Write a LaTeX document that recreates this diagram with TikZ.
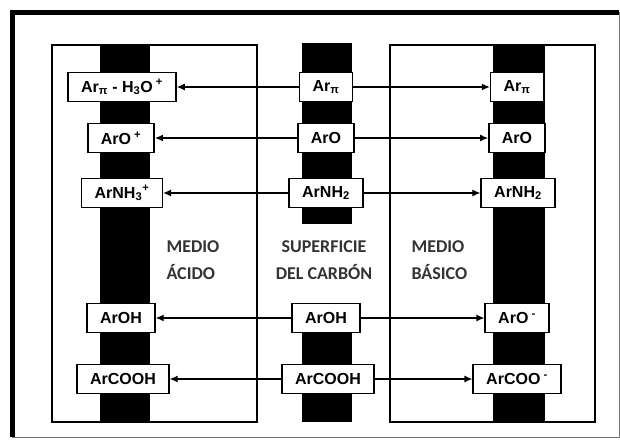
\documentclass[tikz,border=0pt]{standalone}
\usepackage{fontspec}
\setmainfont{Liberation Sans}
\newfontfamily\mediumfont{Carlito}
\usetikzlibrary{arrows.meta}

\begin{document}
\begin{tikzpicture}[x=1pt,y=-1pt,
    species/.style={draw,line width=1.6pt,fill=white,
      font=\bfseries\fontsize{16}{16}\selectfont,
      inner xsep=13pt,minimum height=29pt},
    zone/.style={draw,line width=2.4pt},
    link/.style={line width=1.2pt,-{Latex[length=8pt,width=7pt]}},
    medium/.style={font=\mediumfont\bfseries\fontsize{18}{27}\selectfont,
      text=black!80}]
  \useasboundingbox (0,0) rectangle (620,439);
  % outer frame
  \draw[line width=5pt] (12,437) -- (12,12) -- (619,12);
  \draw[black!55,line width=0.8pt] (619,12) -- (619,437) -- (12,437);
  % carbon bars
  \fill (100,45) rectangle (150,422);
  \fill (302,43) rectangle (352,224);
  \fill (302,306) rectangle (352,422);
  \fill (493,45) rectangle (545,422);
  % acid and basic media
  \draw[zone] (52,45) rectangle (257,422);
  \draw[zone] (390,45) rectangle (595,422);
  \node[medium,align=left,anchor=west] (acid) at (163,260) {MEDIO\\ÁCIDO};
  \node[medium,align=center] (surface) at (324,260) {SUPERFICIE\\DEL CARBÓN};
  \node[medium,align=left,anchor=west] (basic) at (408,260) {MEDIO\\BÁSICO};
  % surface groups
  \node[species] (s1) at (326,87) {Ar\textsubscript{π}};
  \node[species] (s2) at (326,138) {ArO};
  \node[species] (s3) at (326,193) {ArNH\textsubscript{2}};
  \node[species] (s4) at (326,318) {ArOH};
  \node[species] (s5) at (328,379) {ArCOOH};
  % acid side
  \node[species] (a1) at (122,87) {Ar\textsubscript{π} - H\textsubscript{3}O\textsuperscript{ +}};
  \node[species] (a2) at (121,138) {ArO\textsuperscript{ +}};
  \node[species] (a3) at (122,193) {ArNH\textsubscript{3}\textsuperscript{+}};
  \node[species] (a4) at (121,318) {ArOH};
  \node[species] (a5) at (123,379) {ArCOOH};
  % basic side
  \node[species] (b1) at (517,87) {Ar\textsubscript{π}};
  \node[species] (b2) at (517,138) {ArO};
  \node[species] (b3) at (518,193) {ArNH\textsubscript{2}};
  \node[species] (b4) at (517,318) {ArO\textsuperscript{ -}};
  \node[species] (b5) at (517,379) {ArCOO\textsuperscript{ -}};
  \foreach \r in {1,...,5} {
    \draw[link] (s\r) -- (a\r);
    \draw[link] (s\r) -- (b\r);
  }
\end{tikzpicture}
\end{document}
